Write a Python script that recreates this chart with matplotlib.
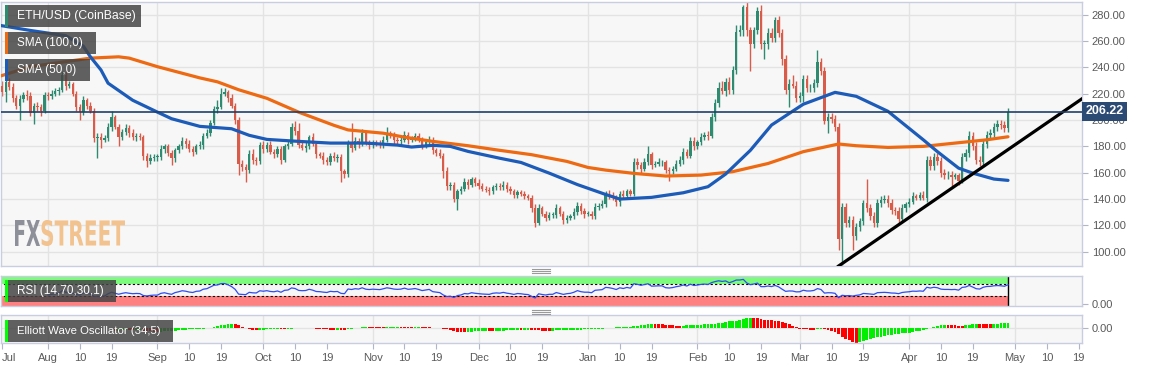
import numpy as np
import pandas as pd
import matplotlib
matplotlib.use('Agg')
import matplotlib.pyplot as plt
import matplotlib.dates as mdates
from matplotlib.patches import Rectangle, PathPatch
from matplotlib.textpath import TextPath
from matplotlib.font_manager import FontProperties
from matplotlib.transforms import Affine2D, blended_transform_factory

# ---------------- data ----------------
start_date = '2019-07-18'
first_open = 213.0
close = [
    226, 221, 229, 225, 217, 211, 216, 219, 218, 205,
    211, 210, 207, 219, 218, 220, 222, 223, 234, 226,
    227, 220, 210, 206, 215, 211, 207, 186, 187, 185,
    186, 195, 202, 195, 187, 191, 194, 190, 187, 188,
    187, 173, 169, 171, 172, 172, 178, 180, 175, 171,
    177, 180, 184, 182, 178, 176, 180, 181, 188, 190,
    198, 208, 210, 220, 221, 217, 211, 200, 167, 164,
    162, 174, 170, 169, 181, 178, 181, 176, 174, 178,
    170, 180, 182, 195, 192, 181, 179, 180, 187, 182,
    174, 173, 170, 168, 173, 171, 172, 161, 159, 182,
    179, 184, 182, 190, 183, 181, 183, 182, 181, 185,
    190, 188, 185, 184, 185, 189, 185, 186, 188, 185,
    181, 183, 185, 177, 175, 173, 161, 150, 151, 140,
    146, 148, 153, 151, 155, 152, 150, 148, 147, 146,
    149, 150, 149, 151, 148, 146, 143, 145, 144, 142,
    141, 133, 122, 133, 129, 126, 128, 128, 133, 129,
    124, 126, 127, 130, 135, 131, 129, 129, 127, 134,
    135, 136, 144, 143, 141, 138, 144, 142, 146, 144,
    168, 166, 163, 168, 174, 166, 167, 168, 168, 162,
    161, 163, 167, 170, 176, 173, 184, 180, 183, 187,
    189, 188, 202, 213, 224, 222, 229, 223, 238, 267,
    268, 286, 268, 258, 268, 283, 258, 258, 266, 262,
    276, 266, 246, 223, 227, 226, 217, 218, 231, 224,
    224, 228, 244, 237, 199, 202, 201, 195, 110, 134,
    122, 124, 112, 119, 123, 137, 133, 127, 122, 137,
    139, 140, 137, 132, 131, 125, 133, 136, 138, 142,
    141, 143, 141, 170, 165, 172, 169, 160, 158, 158,
    157, 158, 154, 172, 175, 188, 180, 170, 168, 182,
    189, 190, 195, 197, 196, 194, 206.22,
]
upper_wick = [
    3, 4, 2, 3, 3, 2, 3, 2, 4, 3,
    2, 3, 2, 2, 2, 3, 2, 2, 3, 4,
    3, 2, 2, 2, 3, 2, 3, 2, 3, 3,
    3, 3, 5, 2, 2, 2, 3, 2, 3, 2,
    2, 2, 2, 3, 2, 2, 3, 2, 2, 2,
    2, 2, 3, 2, 3, 2, 2, 3, 2, 3,
    2, 3, 5, 4, 3, 2, 3, 2, 2, 3,
    3, 3, 4, 2, 2, 3, 2, 3, 2, 2,
    2, 2, 3, 3, 4, 6, 2, 3, 2, 3,
    2, 2, 3, 2, 2, 3, 2, 2, 2, 3,
    16, 3, 2, 3, 2, 2, 2, 2, 3, 3,
    5, 2, 3, 2, 2, 3, 2, 2, 2, 2,
    2, 2, 3, 2, 2, 3, 2, 3, 2, 2,
    2, 2, 3, 2, 2, 2, 3, 2, 2, 2,
    2, 2, 2, 3, 2, 2, 2, 2, 2, 2,
    2, 2, 3, 3, 2, 2, 2, 2, 3, 2,
    2, 2, 2, 3, 3, 2, 2, 2, 2, 3,
    2, 3, 2, 3, 2, 2, 2, 3, 2, 2,
    3, 3, 2, 3, 6, 2, 2, 3, 2, 2,
    2, 2, 3, 3, 3, 2, 3, 3, 2, 3,
    2, 3, 3, 3, 5, 6, 3, 4, 3, 5,
    4, 1, 4, 3, 3, 3, 4, 3, 4, 4,
    2, 3, 3, 3, 4, 7, 4, 3, 3, 3,
    3, 3, 9, 3, 3, 3, 3, 3, 3, 3,
    3, 3, 3, 3, 3, 2, 18, 3, 3, 3,
    3, 3, 3, 3, 2, 3, 3, 2, 3, 3,
    2, 2, 3, 3, 3, 3, 3, 3, 3, 3,
    3, 2, 2, 3, 3, 4, 3, 3, 3, 3,
    3, 3, 3, 3, 3, 3, 3,
]
lower_wick = [
    3, 3, 7, 2, 3, 3, 11, 2, 3, 2,
    8, 3, 4, 2, 3, 2, 2, 3, 2, 3,
    2, 2, 3, 6, 2, 3, 2, 3, 15, 6,
    2, 2, 3, 2, 7, 2, 2, 3, 2, 3,
    2, 3, 5, 2, 2, 3, 2, 3, 2, 5,
    3, 2, 2, 3, 2, 3, 2, 2, 3, 2,
    2, 2, 3, 2, 2, 3, 2, 3, 9, 3,
    9, 2, 3, 3, 2, 3, 2, 2, 3, 2,
    3, 2, 2, 2, 3, 2, 2, 3, 2, 2,
    3, 2, 3, 2, 2, 2, 3, 8, 3, 2,
    3, 2, 3, 2, 2, 3, 2, 2, 2, 2,
    2, 2, 3, 2, 2, 2, 3, 2, 2, 2,
    3, 2, 2, 3, 2, 2, 5, 3, 3, 2,
    8, 2, 2, 3, 2, 2, 2, 2, 2, 3,
    2, 2, 2, 2, 3, 2, 2, 2, 2, 2,
    2, 3, 3, 2, 2, 3, 2, 2, 2, 2,
    3, 2, 2, 2, 2, 2, 3, 2, 2, 2,
    2, 2, 2, 3, 2, 3, 3, 2, 2, 2,
    2, 3, 3, 2, 2, 3, 2, 2, 3, 2,
    7, 2, 2, 2, 3, 2, 2, 3, 2, 2,
    2, 3, 2, 3, 3, 2, 4, 3, 3, 3,
    3, 4, 4, 21, 3, 3, 4, 12, 4, 3,
    3, 3, 4, 3, 13, 2, 3, 3, 4, 3,
    3, 3, 3, 3, 2, 9, 3, 3, 9, 20,
    3, 3, 11, 3, 3, 3, 3, 3, 3, 3,
    3, 2, 3, 3, 3, 3, 2, 3, 2, 2,
    2, 2, 2, 3, 3, 3, 3, 3, 3, 3,
    7, 2, 3, 2, 3, 3, 3, 3, 3, 3,
    3, 3, 3, 3, 3, 3, 3,
]

sma100_dates = ['2019-07-18', '2019-07-27', '2019-08-13', '2019-08-21', '2019-08-24',
                '2019-09-01', '2019-09-13', '2019-09-18', '2019-09-24', '2019-10-02',
                '2019-10-11', '2019-10-21', '2019-10-25', '2019-11-04', '2019-11-10',
                '2019-11-18', '2019-11-28', '2019-12-07', '2019-12-16', '2019-12-26',
                '2020-01-01', '2020-01-06', '2020-01-14', '2020-01-23', '2020-02-02',
                '2020-02-11', '2020-02-21', '2020-03-02', '2020-03-12', '2020-03-17',
                '2020-03-26', '2020-04-05', '2020-04-14', '2020-04-23', '2020-04-29']
sma100_vals = [233, 240.5, 247, 248, 247,
               240.5, 232, 229, 223, 216.5,
               206, 196, 192.5, 190, 187,
               183.8, 180.5, 177, 173.7, 168.6,
               164, 162, 159.5, 157.5, 158.2,
               160.8, 167, 176, 181.8, 180.5,
               179.2, 180, 182.5, 185, 187.3]

sma50_dates = ['2019-07-18', '2019-07-27', '2019-08-06', '2019-08-11', '2019-08-13',
               '2019-08-16', '2019-08-18', '2019-08-25', '2019-09-01', '2019-09-05',
               '2019-09-13', '2019-09-22', '2019-09-27', '2019-10-02', '2019-10-11',
               '2019-10-20', '2019-10-30', '2019-11-08', '2019-11-12', '2019-11-18',
               '2019-11-23', '2019-11-28', '2019-12-07', '2019-12-13', '2019-12-21',
               '2019-12-29', '2020-01-06', '2020-01-10', '2020-01-19', '2020-01-28',
               '2020-02-04', '2020-02-09', '2020-02-16', '2020-02-22', '2020-03-02',
               '2020-03-11', '2020-03-17', '2020-03-26', '2020-04-05', '2020-04-09',
               '2020-04-15', '2020-04-19', '2020-04-25', '2020-04-29']
sma50_vals = [272, 268, 264, 256, 248,
              238, 228, 215, 206, 201,
              195.2, 193.4, 188.4, 185.3, 183.8,
              182.5, 182.5, 181, 179.5, 180.8,
              180, 176.2, 171, 167.8, 159.7,
              151, 143.5, 140, 141.3, 144.8,
              149.4, 159, 177, 196.2, 212,
              221, 218, 206.6, 185, 176,
              163.5, 159.7, 155.2, 154.2]

trend_dates = ['2020-03-12', '2020-05-20']
trend_vals = [89.2, 216.2]

y_ticks = [100, 120, 140, 160, 180, 200, 220, 240, 260, 280]
x_tick_dates = ['2019-07-19', '2019-08-01', '2019-08-10', '2019-08-19', '2019-09-01',
                '2019-09-10', '2019-09-19', '2019-10-01', '2019-10-10', '2019-10-19',
                '2019-11-01', '2019-11-10', '2019-11-19', '2019-12-01', '2019-12-10',
                '2019-12-19', '2020-01-01', '2020-01-10', '2020-01-19', '2020-02-01',
                '2020-02-10', '2020-02-19', '2020-03-01', '2020-03-10', '2020-03-19',
                '2020-04-01', '2020-04-10', '2020-04-19', '2020-05-01', '2020-05-10',
                '2020-05-19']
x_tick_labels = ['Jul', 'Aug', '10', '19', 'Sep', '10', '19', 'Oct', '10', '19',
                 'Nov', '10', '19', 'Dec', '10', '19', 'Jan', '10', '19', 'Feb',
                 '10', '19', 'Mar', '10', '19', 'Apr', '10', '19', 'May', '10', '19']
month_starts = ['2019-08-01', '2019-09-01', '2019-10-01', '2019-11-01', '2019-12-01',
                '2020-01-01', '2020-02-01', '2020-03-01', '2020-04-01', '2020-05-01']

legend_main = ['ETH/USD (CoinBase)', 'SMA (100,0)', 'SMA (50,0)']
rsi_label = 'RSI (14,70,30,1)'
ewo_label = 'Elliott Wave Oscillator (34,5)'

# ---------------- derived ----------------
dates = pd.date_range(start_date, periods=len(close), freq='D')
xd = mdates.date2num(dates)
c = np.array(close, dtype=float)
o = np.concatenate([[first_open], c[:-1]])
h = np.maximum(o, c) + np.array(upper_wick)
l = np.minimum(o, c) - np.array(lower_wick)

delta = pd.Series(c).diff()
gain = delta.clip(lower=0)
loss = -delta.clip(upper=0)
ag = gain.ewm(alpha=1 / 14, adjust=False, min_periods=14).mean()
al = loss.ewm(alpha=1 / 14, adjust=False, min_periods=14).mean()
rsi = (100 - 100 / (1 + ag / al)).values

med = pd.Series((h + l) / 2)
ewo = (med.rolling(5).mean() - med.rolling(34).mean()).values

def dn(s):
    return mdates.date2num(pd.to_datetime(s))

base = dn('2019-07-01')
XL = (base + 17.67, base + 323.97)

# ---------------- style ----------------
W, H = 1153, 370
fig = plt.figure(figsize=(W / 100, H / 100), dpi=100)
fig.patch.set_facecolor('white')
FONT = 'Liberation Sans'
plt.rcParams['font.family'] = [FONT, 'DejaVu Sans']
BG = '#f7f7f7'
GRID = '#e3e3e3'
SPINE = '#c8cee0'
TXT = '#5a5a5a'
GREEN = '#2e8b6f'
RED = '#d95b49'

def frac(x0, y0, x1, y1):
    return [x0 / W, 1 - y1 / H, (x1 - x0) / W, (y1 - y0) / H]

ax = fig.add_axes(frac(1, 2, 1082, 266))
ar = fig.add_axes(frac(1, 276, 1082, 306))
ae = fig.add_axes(frac(1, 315, 1082, 343))

for a in (ax, ar, ae):
    a.set_facecolor(BG)
    for s in a.spines.values():
        s.set_color(SPINE)
        s.set_linewidth(1)
    a.set_xlim(*XL)
    a.yaxis.tick_right()
    a.tick_params(axis='y', labelsize=8, colors=TXT, length=4, width=0.8, pad=3)
    a.tick_params(axis='y', color='#b0b6c8')
    for m in month_starts:
        a.axvline(dn(m), color=GRID, lw=1, zorder=0)

# main panel
ax.set_ylim(89.2, 289.6)
for t in y_ticks:
    ax.axhline(t, color=GRID, lw=1, zorder=0)
ax.set_yticks(y_ticks)
ax.set_yticklabels([f'{t:.2f}' for t in y_ticks])
ax.set_xticks([])
cols = np.where(c >= o, GREEN, RED)
ax.vlines(xd, l, h, colors=cols, lw=1, zorder=2)
ax.bar(xd, np.maximum(np.abs(c - o), 0.5), bottom=np.minimum(o, c), width=0.66,
       color=cols, linewidth=0, zorder=3)
ax.plot(dn(sma100_dates), sma100_vals, color='#ee6a12', lw=2.3, zorder=4,
        solid_capstyle='round', solid_joinstyle='round')
ax.plot(dn(sma50_dates), sma50_vals, color='#1c5cb8', lw=2.3, zorder=5,
        solid_capstyle='round', solid_joinstyle='round')
ax.plot(dn(trend_dates), trend_vals, color='black', lw=2.3, zorder=6)
ax.axhline(c[-1], color='#20406c', lw=1.2, zorder=6)
ax.text(1.0035, c[-1] + 0.6, f'{c[-1]:.2f}',
        transform=blended_transform_factory(ax.transAxes, ax.transData),
        ha='left', va='center', color='white', fontweight='bold', fontsize=9,
        bbox=dict(boxstyle='square,pad=0.28', fc='#2b4a74', ec='none'),
        clip_on=False, zorder=20)

# RSI panel
rlo = -7.4
ar.set_ylim(rlo, 100)
ar.set_yticks([0])
ar.set_yticklabels(['0.00'])
ar.set_xticks([])
ar.add_patch(Rectangle((xd[0], 70), xd[-1] - xd[0], 30, fc='#7dfb7d', ec='none', zorder=1))
ar.add_patch(Rectangle((xd[0], rlo), xd[-1] - xd[0], 30 - rlo, fc='#ff8080', ec='none', zorder=1))
ar.hlines([70, 30], xd[0], xd[-1], colors='black', lw=0.8, linestyles=(0, (2, 2)), zorder=2)
ar.vlines([xd[0], xd[-1]], rlo, 100, colors='black', lw=1, zorder=2)
ar.plot(xd, rsi, color='#2f4cf0', lw=0.9, zorder=3)

# EWO panel
emin = np.nanmin(ewo)
ae.set_ylim(emin * 1.02, -emin * 1.02 * 13 / 15)
ae.axhline(0, color=GRID, lw=1, zorder=0)
ae.set_yticks([0])
ae.set_yticklabels(['0.00'])
prev = np.concatenate([[np.nan], ewo[:-1]])
ecols = np.where(ewo >= prev, '#00ee00', '#ff0000')
ae.bar(xd, ewo, width=0.8, color=ecols, linewidth=0, zorder=2)
ae.set_xticks(dn(x_tick_dates))
ae.set_xticklabels(x_tick_labels)
ae.tick_params(axis='x', labelsize=8, colors=TXT, length=4, width=0.8, pad=3)
ae.tick_params(axis='x', color='#b0b6c8')
ae.get_xticklabels()[0].set_ha('left')

# ---------------- overlay (labels, logo) ----------------
ov = fig.add_axes([0, 0, 1, 1], zorder=10)
ov.set_xlim(0, W)
ov.set_ylim(H, 0)
ov.axis('off')
ov.patch.set_alpha(0)

def label_box(x0, y0, x1, y1, strip, text, fs):
    ov.add_patch(Rectangle((x0, y0), x1 - x0, y1 - y0, fc='#454545', alpha=0.85, ec='none'))
    ov.add_patch(Rectangle((x0, y0), 2.8, y1 - y0, fc=strip, ec='none'))
    ov.text(x0 + 12, (y0 + y1) / 2 + 0.5, text, color='white', fontsize=fs,
            ha='left', va='center')

label_box(5, 5, 140.7, 26.7, '#2e8b6f', legend_main[0], 8.8)
label_box(5, 32, 96, 53.7, '#ee6a12', legend_main[1], 8.5)
label_box(5, 59, 90, 80.7, '#1c5cb8', legend_main[2], 8.5)
label_box(5, 280, 116, 301.7, '#00ff00', rsi_label, 8.5)
label_box(5, 320, 173, 341.7, '#00ff00', ewo_label, 8.2)

# drag handles between panels
for yy in (268.5, 270.5, 272.5, 309.5, 311.5, 313.5):
    ov.plot([532, 550], [yy, yy], color='#9a9a9a', lw=0.8)

# FXSTREET logo
fp = FontProperties(family='DejaVu Sans', weight='bold')
def logo_part(s, x0, x1, y0, y1, color):
    tp = TextPath((0, 0), s, prop=fp, size=10)
    ext = tp.get_extents()
    tr = (Affine2D().translate(-ext.x0, -ext.y0)
          .scale((x1 - x0) / ext.width, -(y1 - y0) / ext.height)
          .translate(x0, y1))
    ov.add_patch(PathPatch(tr.transform_path(tp), fc=color, ec='none'))

logo_part('FX', 15, 40, 220, 246, '#8e9099')
logo_part('STREET', 41.5, 125, 220, 246, '#f2c28f')

fig.savefig('out.png', dpi=100, facecolor='white')
